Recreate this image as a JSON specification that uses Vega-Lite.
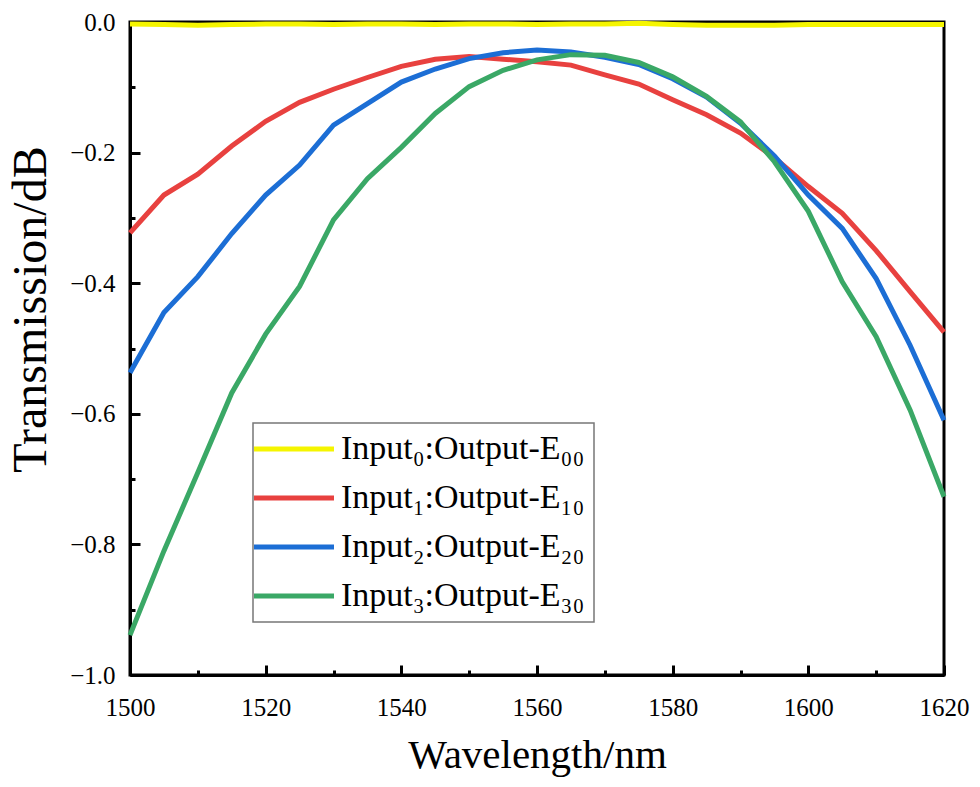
{
  "$schema": "https://vega.github.io/schema/vega-lite/v6.json",
  "width": 814,
  "height": 653,
  "autosize": {"type": "none"},
  "padding": {"left": 130, "top": 22, "right": 36, "bottom": 112},
  "background": "white",
  "config": {
    "view": {"stroke": "black", "strokeWidth": 3},
    "font": "Liberation Serif",
    "axis": {"labelFont": "Liberation Serif", "titleFont": "Liberation Serif"},
    "legend": {"labelFont": "Liberation Serif"}
  },
  "datasets": {
    "curves": [
      {"wl": 1500, "s": "Input₀:Output-E₀₀", "t": -0.003},
      {"wl": 1505, "s": "Input₀:Output-E₀₀", "t": -0.004},
      {"wl": 1510, "s": "Input₀:Output-E₀₀", "t": -0.005},
      {"wl": 1515, "s": "Input₀:Output-E₀₀", "t": -0.004},
      {"wl": 1520, "s": "Input₀:Output-E₀₀", "t": -0.003},
      {"wl": 1525, "s": "Input₀:Output-E₀₀", "t": -0.003},
      {"wl": 1530, "s": "Input₀:Output-E₀₀", "t": -0.004},
      {"wl": 1535, "s": "Input₀:Output-E₀₀", "t": -0.003},
      {"wl": 1540, "s": "Input₀:Output-E₀₀", "t": -0.003},
      {"wl": 1545, "s": "Input₀:Output-E₀₀", "t": -0.004},
      {"wl": 1550, "s": "Input₀:Output-E₀₀", "t": -0.003},
      {"wl": 1555, "s": "Input₀:Output-E₀₀", "t": -0.003},
      {"wl": 1560, "s": "Input₀:Output-E₀₀", "t": -0.004},
      {"wl": 1565, "s": "Input₀:Output-E₀₀", "t": -0.003},
      {"wl": 1570, "s": "Input₀:Output-E₀₀", "t": -0.003},
      {"wl": 1575, "s": "Input₀:Output-E₀₀", "t": -0.002},
      {"wl": 1580, "s": "Input₀:Output-E₀₀", "t": -0.004},
      {"wl": 1585, "s": "Input₀:Output-E₀₀", "t": -0.005},
      {"wl": 1590, "s": "Input₀:Output-E₀₀", "t": -0.005},
      {"wl": 1595, "s": "Input₀:Output-E₀₀", "t": -0.005},
      {"wl": 1600, "s": "Input₀:Output-E₀₀", "t": -0.004},
      {"wl": 1605, "s": "Input₀:Output-E₀₀", "t": -0.004},
      {"wl": 1610, "s": "Input₀:Output-E₀₀", "t": -0.004},
      {"wl": 1615, "s": "Input₀:Output-E₀₀", "t": -0.004},
      {"wl": 1620, "s": "Input₀:Output-E₀₀", "t": -0.004},

      {"wl": 1500, "s": "Input₁:Output-E₁₀", "t": -0.323},
      {"wl": 1505, "s": "Input₁:Output-E₁₀", "t": -0.265},
      {"wl": 1510, "s": "Input₁:Output-E₁₀", "t": -0.233},
      {"wl": 1515, "s": "Input₁:Output-E₁₀", "t": -0.190},
      {"wl": 1520, "s": "Input₁:Output-E₁₀", "t": -0.152},
      {"wl": 1525, "s": "Input₁:Output-E₁₀", "t": -0.123},
      {"wl": 1530, "s": "Input₁:Output-E₁₀", "t": -0.103},
      {"wl": 1535, "s": "Input₁:Output-E₁₀", "t": -0.085},
      {"wl": 1540, "s": "Input₁:Output-E₁₀", "t": -0.068},
      {"wl": 1545, "s": "Input₁:Output-E₁₀", "t": -0.057},
      {"wl": 1550, "s": "Input₁:Output-E₁₀", "t": -0.053},
      {"wl": 1555, "s": "Input₁:Output-E₁₀", "t": -0.057},
      {"wl": 1560, "s": "Input₁:Output-E₁₀", "t": -0.061},
      {"wl": 1565, "s": "Input₁:Output-E₁₀", "t": -0.066},
      {"wl": 1570, "s": "Input₁:Output-E₁₀", "t": -0.081},
      {"wl": 1575, "s": "Input₁:Output-E₁₀", "t": -0.095},
      {"wl": 1580, "s": "Input₁:Output-E₁₀", "t": -0.119},
      {"wl": 1585, "s": "Input₁:Output-E₁₀", "t": -0.142},
      {"wl": 1590, "s": "Input₁:Output-E₁₀", "t": -0.170},
      {"wl": 1595, "s": "Input₁:Output-E₁₀", "t": -0.208},
      {"wl": 1600, "s": "Input₁:Output-E₁₀", "t": -0.252},
      {"wl": 1605, "s": "Input₁:Output-E₁₀", "t": -0.293},
      {"wl": 1610, "s": "Input₁:Output-E₁₀", "t": -0.350},
      {"wl": 1615, "s": "Input₁:Output-E₁₀", "t": -0.413},
      {"wl": 1620, "s": "Input₁:Output-E₁₀", "t": -0.475},

      {"wl": 1500, "s": "Input₂:Output-E₂₀", "t": -0.537},
      {"wl": 1505, "s": "Input₂:Output-E₂₀", "t": -0.445},
      {"wl": 1510, "s": "Input₂:Output-E₂₀", "t": -0.390},
      {"wl": 1515, "s": "Input₂:Output-E₂₀", "t": -0.324},
      {"wl": 1520, "s": "Input₂:Output-E₂₀", "t": -0.265},
      {"wl": 1525, "s": "Input₂:Output-E₂₀", "t": -0.219},
      {"wl": 1530, "s": "Input₂:Output-E₂₀", "t": -0.158},
      {"wl": 1535, "s": "Input₂:Output-E₂₀", "t": -0.125},
      {"wl": 1540, "s": "Input₂:Output-E₂₀", "t": -0.092},
      {"wl": 1545, "s": "Input₂:Output-E₂₀", "t": -0.072},
      {"wl": 1550, "s": "Input₂:Output-E₂₀", "t": -0.056},
      {"wl": 1555, "s": "Input₂:Output-E₂₀", "t": -0.047},
      {"wl": 1560, "s": "Input₂:Output-E₂₀", "t": -0.043},
      {"wl": 1565, "s": "Input₂:Output-E₂₀", "t": -0.046},
      {"wl": 1570, "s": "Input₂:Output-E₂₀", "t": -0.054},
      {"wl": 1575, "s": "Input₂:Output-E₂₀", "t": -0.065},
      {"wl": 1580, "s": "Input₂:Output-E₂₀", "t": -0.087},
      {"wl": 1585, "s": "Input₂:Output-E₂₀", "t": -0.115},
      {"wl": 1590, "s": "Input₂:Output-E₂₀", "t": -0.155},
      {"wl": 1595, "s": "Input₂:Output-E₂₀", "t": -0.205},
      {"wl": 1600, "s": "Input₂:Output-E₂₀", "t": -0.265},
      {"wl": 1605, "s": "Input₂:Output-E₂₀", "t": -0.316},
      {"wl": 1610, "s": "Input₂:Output-E₂₀", "t": -0.393},
      {"wl": 1615, "s": "Input₂:Output-E₂₀", "t": -0.495},
      {"wl": 1620, "s": "Input₂:Output-E₂₀", "t": -0.610},

      {"wl": 1500, "s": "Input₃:Output-E₃₀", "t": -0.939},
      {"wl": 1505, "s": "Input₃:Output-E₃₀", "t": -0.810},
      {"wl": 1510, "s": "Input₃:Output-E₃₀", "t": -0.690},
      {"wl": 1515, "s": "Input₃:Output-E₃₀", "t": -0.568},
      {"wl": 1520, "s": "Input₃:Output-E₃₀", "t": -0.478},
      {"wl": 1525, "s": "Input₃:Output-E₃₀", "t": -0.405},
      {"wl": 1530, "s": "Input₃:Output-E₃₀", "t": -0.303},
      {"wl": 1535, "s": "Input₃:Output-E₃₀", "t": -0.240},
      {"wl": 1540, "s": "Input₃:Output-E₃₀", "t": -0.192},
      {"wl": 1545, "s": "Input₃:Output-E₃₀", "t": -0.140},
      {"wl": 1550, "s": "Input₃:Output-E₃₀", "t": -0.099},
      {"wl": 1555, "s": "Input₃:Output-E₃₀", "t": -0.074},
      {"wl": 1560, "s": "Input₃:Output-E₃₀", "t": -0.058},
      {"wl": 1565, "s": "Input₃:Output-E₃₀", "t": -0.050},
      {"wl": 1570, "s": "Input₃:Output-E₃₀", "t": -0.051},
      {"wl": 1575, "s": "Input₃:Output-E₃₀", "t": -0.062},
      {"wl": 1580, "s": "Input₃:Output-E₃₀", "t": -0.084},
      {"wl": 1585, "s": "Input₃:Output-E₃₀", "t": -0.114},
      {"wl": 1590, "s": "Input₃:Output-E₃₀", "t": -0.153},
      {"wl": 1595, "s": "Input₃:Output-E₃₀", "t": -0.214},
      {"wl": 1600, "s": "Input₃:Output-E₃₀", "t": -0.290},
      {"wl": 1605, "s": "Input₃:Output-E₃₀", "t": -0.398},
      {"wl": 1610, "s": "Input₃:Output-E₃₀", "t": -0.482},
      {"wl": 1615, "s": "Input₃:Output-E₃₀", "t": -0.594},
      {"wl": 1620, "s": "Input₃:Output-E₃₀", "t": -0.727}
    ]
  },
  "data": {"name": "curves"},
  "mark": {"type": "line", "strokeWidth": 5, "clip": false},
  "encoding": {
    "x": {
      "field": "wl",
      "type": "quantitative",
      "scale": {"domain": [1500, 1620], "nice": false, "zero": false},
      "axis": {
        "title": "Wavelength/nm",
        "values": [1500, 1510, 1520, 1530, 1540, 1550, 1560, 1570, 1580, 1590, 1600, 1610, 1620],
        "format": "d",
        "labelExpr": "datum.value % 20 === 0 ? datum.label : ''",
        "labelFlush": false,
        "labelOverlap": false,
        "grid": false,
        "domainColor": "black",
        "domainWidth": 3,
        "tickColor": "black",
        "tickWidth": 3,
        "tickSize": {"condition": {"test": "datum.value % 20 === 0", "value": -10}, "value": -5},
        "labelFont": "Liberation Serif",
        "labelFontSize": 25,
        "labelFontWeight": "normal",
        "labelColor": "black",
        "labelPadding": 30,
        "titleFont": "Liberation Serif",
        "titleFontSize": 41,
        "titleFontWeight": "normal",
        "titleColor": "black",
        "titlePadding": 10,
        "encode": {
          "labels": {"update": {"font": {"value": "Liberation Serif"}, "fontSize": {"value": 25}, "fontWeight": {"value": "normal"}}}
        }
      }
    },
    "y": {
      "field": "t",
      "type": "quantitative",
      "scale": {"domain": [-1, 0], "nice": false, "zero": false},
      "axis": {
        "title": "Transmission/dB",
        "values": [-1, -0.9, -0.8, -0.7, -0.6, -0.5, -0.4, -0.3, -0.2, -0.1, 0],
        "format": ".1f",
        "labelExpr": "abs(round(datum.value * 10)) % 2 === 0 ? datum.label : ''",
        "labelFlush": false,
        "labelOverlap": false,
        "grid": false,
        "domainColor": "black",
        "domainWidth": 3,
        "tickColor": "black",
        "tickWidth": 3,
        "tickSize": {"condition": {"test": "abs(round(datum.value * 10)) % 2 === 0", "value": -10}, "value": -5},
        "labelFont": "Liberation Serif",
        "labelFontSize": 25,
        "labelFontWeight": "normal",
        "labelColor": "black",
        "labelPadding": 25,
        "titleFont": "Liberation Serif",
        "titleFontSize": 48,
        "titleFontWeight": "normal",
        "titleColor": "black",
        "titleX": -85,
        "titleY": 287,
        "titleAngle": -90,
        "titleAlign": "center",
        "titleBaseline": "alphabetic",
        "encode": {
          "labels": {"update": {"font": {"value": "Liberation Serif"}, "fontSize": {"value": 25}, "fontWeight": {"value": "normal"}}},
          "title": {"update": {"fontSize": {"value": 48}, "font": {"value": "Liberation Serif"}}}
        }
      }
    },
    "color": {
      "field": "s",
      "type": "nominal",
      "scale": {
        "domain": ["Input₀:Output-E₀₀", "Input₁:Output-E₁₀", "Input₂:Output-E₂₀", "Input₃:Output-E₃₀"],
        "range": ["#F5F500", "#E8413F", "#1C6ED5", "#3AA866"]
      },
      "legend": {
        "orient": "none",
        "legendX": 123,
        "legendY": 401,
        "title": null,
        "symbolType": "M-5,0H11",
        "symbolSize": 100,
        "symbolStrokeWidth": 5,
        "labelFont": "Liberation Serif",
        "labelFontSize": 34,
        "labelColor": "black",
        "labelLimit": 400,
        "labelOffset": 45,
        "strokeColor": "#777777",
        "fillColor": "white",
        "padding": 9,
        "rowPadding": 15,
        "encode": {"legend": {"update": {"strokeWidth": {"value": 1.5}}}}
      }
    }
  }
}
